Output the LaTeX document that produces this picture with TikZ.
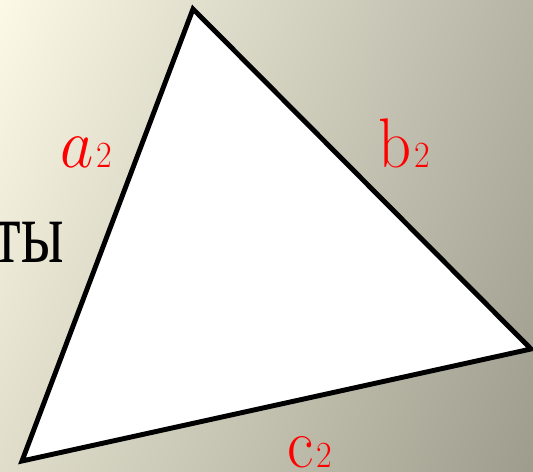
\documentclass[tikz,border=0pt]{standalone}
\usepackage{fix-cm}
\usepackage{fontspec}
\usetikzlibrary{shadings}
\newfontfamily\cyrfont{Liberation Serif}
\definecolor{bgtl}{RGB}{252,249,230}
\definecolor{bgtr}{RGB}{182,180,165}
\definecolor{bgbl}{RGB}{224,222,203}
\definecolor{bgbr}{RGB}{158,156,140}
\newcommand{\subtwo}{\kern2pt{\fontsize{21}{25}\selectfont 2}}
\begin{document}
\begin{tikzpicture}[x=0.02cm, y=-0.02cm,
        side/.style={draw=black, fill=white, line width=2.8pt, line join=miter},
        lbl/.style={inner sep=0pt, text=red, font=\fontsize{40}{48}\selectfont, xscale=0.92, transform shape},
        word/.style={inner sep=0pt, text=black, font=\cyrfont\fontsize{50}{60}\selectfont, xscale=0.72, transform shape}
    ]
        \shade[upper left=bgtl, upper right=bgtr, lower left=bgbl, lower right=bgbr]
            (0,0) rectangle (533,472);
        \useasboundingbox (0,0) rectangle (533,472);

        \coordinate (top) at (193,9);
        \coordinate (right) at (531,349);
        \coordinate (left) at (22,461);
        \draw[side] (top) -- (right) -- (left) -- cycle;

        \node[word, anchor=base east] (ty) at (64,263) {ты};
        \node[lbl, anchor=base west] (sidea) at (60,168) {$a$\subtwo};
        \node[lbl, anchor=base west] (sideb) at (378,168) {b\subtwo};
        \node[lbl, anchor=base west] (sidec) at (287,467) {c\subtwo};
    \end{tikzpicture}
\end{document}
